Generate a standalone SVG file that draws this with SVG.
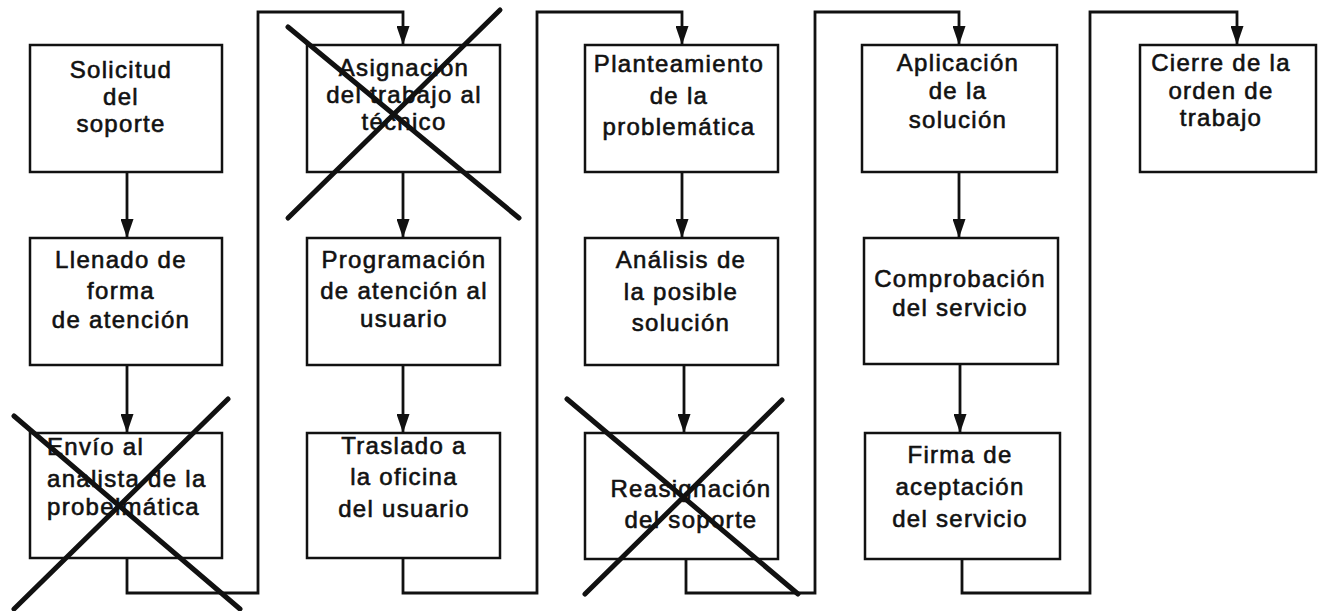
<svg xmlns="http://www.w3.org/2000/svg" width="1318" height="611" viewBox="0 0 1318 611">
<style>
.box{fill:#fff;stroke:#111;stroke-width:2.5}
.t{font-family:"Liberation Sans",Arial,sans-serif;font-size:24px;letter-spacing:1.3px;fill:#111;stroke:#111;stroke-width:0.6;text-anchor:middle}
.tl{text-anchor:start}
.c{fill:none;stroke:#111;stroke-width:2.8}
.x{stroke:#111;stroke-width:5;stroke-linecap:round;fill:none}
</style>
<defs>
<marker id="arr" viewBox="0 0 19 13" refX="19" refY="6.5" markerWidth="19" markerHeight="13" markerUnits="userSpaceOnUse" orient="auto">
<path d="M0,0 L19,6.5 L0,13 z" fill="#111"/>
</marker>
</defs>
<rect width="1318" height="611" fill="#fff"/>

<g id="connectors">
<line class="c" x1="127" y1="172" x2="127" y2="238" marker-end="url(#arr)"/>
<line class="c" x1="127" y1="365" x2="127" y2="433" marker-end="url(#arr)"/>
<polyline class="c" points="127,558 127,593 258,593 258,12 403,12 403,45" marker-end="url(#arr)"/>
<line class="c" x1="403" y1="172" x2="403" y2="238" marker-end="url(#arr)"/>
<line class="c" x1="403" y1="365" x2="403" y2="433" marker-end="url(#arr)"/>
<polyline class="c" points="403,558 403,593 537,593 537,12 682,12 682,45" marker-end="url(#arr)"/>
<line class="c" x1="682" y1="172" x2="682" y2="238" marker-end="url(#arr)"/>
<line class="c" x1="684" y1="365" x2="684" y2="433" marker-end="url(#arr)"/>
<polyline class="c" points="686,558 686,593 815,593 815,12 959,12 959,45" marker-end="url(#arr)"/>
<line class="c" x1="959" y1="172" x2="959" y2="238" marker-end="url(#arr)"/>
<line class="c" x1="960" y1="365" x2="960" y2="433" marker-end="url(#arr)"/>
<polyline class="c" points="962,558 962,593 1090,593 1090,12 1237,12 1237,45" marker-end="url(#arr)"/>
</g>

<g id="n1"><rect class="box" x="30" y="45" width="192" height="127"/>
<text class="t" x="121" y="78">Solicitud</text><text class="t" x="121" y="105">del</text><text class="t" x="121" y="132">soporte</text></g>
<g id="n2"><rect class="box" x="30" y="238" width="192" height="127"/>
<text class="t" x="121" y="268">Llenado de</text><text class="t" x="121" y="299">forma</text><text class="t" x="121" y="328">de atención</text></g>
<g id="n3"><rect class="box" x="30" y="433" width="192" height="125"/>
<text class="t tl" x="47" y="455">Envío al</text><text class="t tl" x="47" y="487">analista de la</text><text class="t tl" x="47" y="515">probelmática</text></g>

<g id="n4"><rect class="box" x="307" y="45" width="193" height="127"/>
<text class="t" x="404" y="76">Asignación</text><text class="t" x="404" y="103">del trabajo al</text><text class="t" x="404" y="130">técnico</text></g>
<g id="n5"><rect class="box" x="307" y="238" width="193" height="127"/>
<text class="t" x="404" y="268">Programación</text><text class="t" x="404" y="299">de atención al</text><text class="t" x="404" y="327">usuario</text></g>
<g id="n6"><rect class="box" x="307" y="433" width="193" height="125"/>
<text class="t" x="404" y="454">Traslado a</text><text class="t" x="404" y="485">la oficina</text><text class="t" x="404" y="517">del usuario</text></g>

<g id="n7"><rect class="box" x="585" y="45" width="193" height="127"/>
<text class="t" x="679" y="72">Planteamiento</text><text class="t" x="679" y="104">de la</text><text class="t" x="679" y="135">problemática</text></g>
<g id="n8"><rect class="box" x="585" y="238" width="193" height="127"/>
<text class="t" x="681" y="268">Análisis de</text><text class="t" x="681" y="300">la posible</text><text class="t" x="681" y="331">solución</text></g>
<g id="n9"><rect class="box" x="585" y="433" width="193" height="126"/>
<text class="t" x="691" y="497">Reasignación</text><text class="t" x="691" y="528">del soporte</text></g>

<g id="n10"><rect class="box" x="862" y="45" width="195" height="127"/>
<text class="t" x="958" y="71">Aplicación</text><text class="t" x="958" y="99">de la</text><text class="t" x="958" y="128">solución</text></g>
<g id="n11"><rect class="box" x="864" y="238" width="194" height="126"/>
<text class="t" x="960" y="287">Comprobación</text><text class="t" x="960" y="316">del servicio</text></g>
<g id="n12"><rect class="box" x="865" y="433" width="195" height="126"/>
<text class="t" x="960" y="463">Firma de</text><text class="t" x="960" y="495">aceptación</text><text class="t" x="960" y="527">del servicio</text></g>

<g id="n13"><rect class="box" x="1140" y="45" width="176" height="127"/>
<text class="t" x="1221" y="71">Cierre de la</text><text class="t" x="1221" y="99">orden de</text><text class="t" x="1221" y="126">trabajo</text></g>

<g id="crosses">
<line class="x" x1="288" y1="27" x2="519" y2="218"/>
<line class="x" x1="288" y1="218" x2="500" y2="10"/>
<line class="x" x1="14" y1="416" x2="240" y2="609"/>
<line class="x" x1="228" y1="399" x2="14" y2="609"/>
<line class="x" x1="567" y1="399" x2="798" y2="594"/>
<line class="x" x1="782" y1="400" x2="585" y2="594"/>
</g>
</svg>
